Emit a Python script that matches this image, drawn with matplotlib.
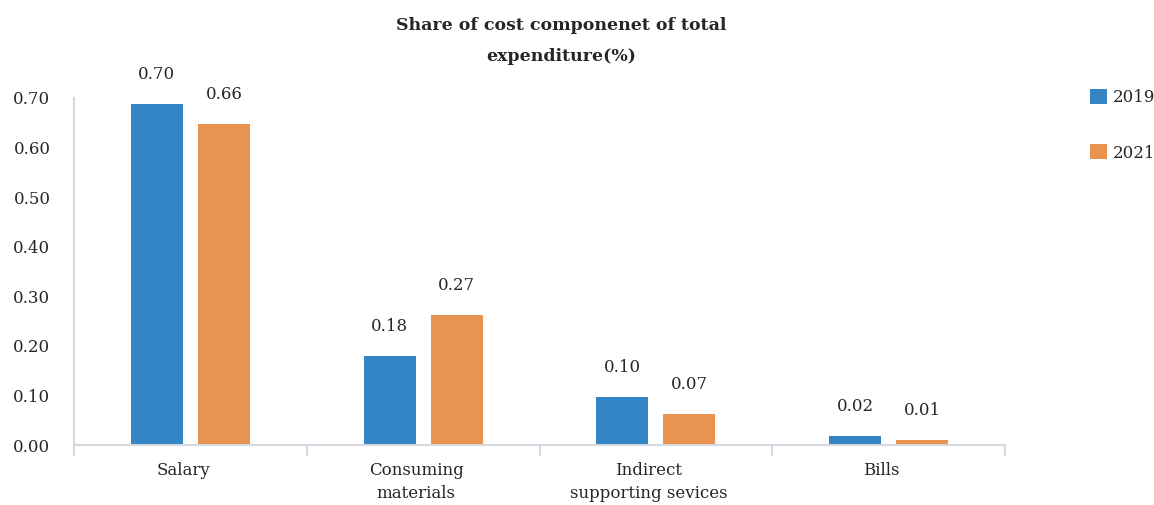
import matplotlib
matplotlib.use('Agg')
from matplotlib import pyplot as plt
import numpy as np

categories = ['Salary', 'Consuming\nmaterials', 'Indirect\nsupporting sevices', 'Bills']
years = ['2019', '2021']
share_2019 = [0.688, 0.179, 0.097, 0.018]
share_2021 = [0.647, 0.262, 0.062, 0.010]
labels_2019 = ['0.70', '0.18', '0.10', '0.02']
labels_2021 = ['0.66', '0.27', '0.07', '0.01']
yticks = [0.0, 0.1, 0.2, 0.3, 0.4, 0.5, 0.6, 0.7]

blue = '#3385c6'
orange = '#e89350'
axis_col = '#d5d8e0'
text_col = '#262626'

plt.rcParams['font.family'] = ['DejaVu Serif']

fig = plt.figure(figsize=(11.54, 5.05), dpi=100)
ax = fig.add_axes([74 / 1154, 1 - 445 / 505, (1005 - 74) / 1154, (445 - 98) / 505])

x = np.arange(len(categories))
w = 0.223
off = 0.144
b1 = ax.bar(x - off, share_2019, w, color=blue, label=years[0])
b2 = ax.bar(x + off, share_2021, w, color=orange, label=years[1])

for bars, labs in [(b1, labels_2019), (b2, labels_2021)]:
    for bar, lab in zip(bars, labs):
        ax.annotate(lab, (bar.get_x() + bar.get_width() / 2, bar.get_height()),
                    xytext=(0, 15), textcoords='offset points', ha='center', va='bottom',
                    fontsize=12, color=text_col)

ax.set_xlim(-0.5, len(categories) - 0.5)
ax.set_ylim(0, 0.70)
ax.set_yticks(yticks)
ax.set_yticklabels(['%.2f' % v for v in yticks], fontsize=12, color=text_col)
ax.tick_params(axis='y', length=0, pad=17)

ax.set_xticks(np.arange(len(categories) + 1) - 0.5, minor=False)
ax.set_xticklabels([])
ax.set_xticks(x - 0.03, minor=True)
ax.set_xticklabels(categories, minor=True, fontsize=12, color=text_col, linespacing=1.45)
ax.tick_params(axis='x', which='major', length=8, width=1.5, color=axis_col)
ax.tick_params(axis='x', which='minor', length=0, pad=12)

for s in ['top', 'right']:
    ax.spines[s].set_visible(False)
ax.spines['left'].set_color(axis_col)
ax.spines['bottom'].set_color(axis_col)
ax.spines['left'].set_linewidth(1.5)
ax.spines['bottom'].set_linewidth(1.5)

fig.text(561 / 1154, 1 - 41 / 505, 'Share of cost componenet of total\nexpenditure(%)',
         ha='center', va='center', fontsize=12.5, fontweight='bold', color=text_col,
         linespacing=2.1)

fig.legend(handles=[b1, b2], loc='upper left', bbox_to_anchor=(1075 / 1154, 1 - 74 / 505),
           frameon=False, fontsize=12, handlelength=1.0, handleheight=1.0,
           handletextpad=0.35, labelspacing=2.3, labelcolor=text_col)

fig.savefig('out.png', dpi=100)
